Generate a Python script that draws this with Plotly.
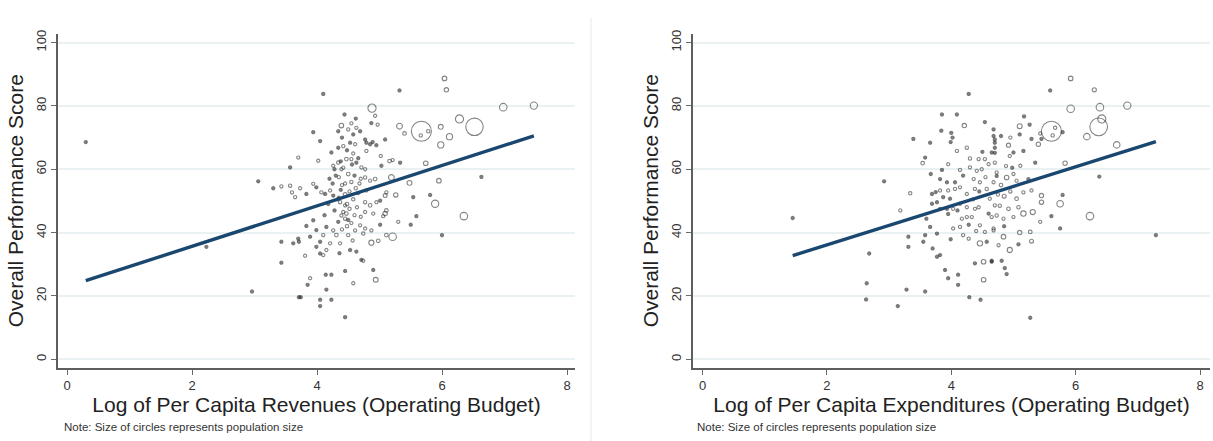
import plotly.graph_objects as go

# Per-municipality observations: log per-capita revenues / expenditures,
# overall performance score and population (thousands) for circle size.
rev_x = [0.30, 2.23, 2.96, 3.06, 3.30, 3.43, 3.57, 3.60, 3.65, 3.57, 3.70, 3.43, 3.43, 3.71, 3.71,
         3.94, 4.10, 4.44, 4.39, 4.05, 4.02, 3.83, 3.89, 3.81, 4.05, 4.15, 4.45, 4.58, 4.14, 4.23,
         3.85, 3.89, 4.15, 3.74, 4.05, 4.23, 4.05, 4.45,
         3.73, 3.83, 3.94, 3.99, 4.07, 4.13, 4.21, 4.26, 4.37, 4.45, 4.47, 4.39, 4.45, 4.34, 4.26,
         4.15, 4.10, 4.05, 3.99, 4.10, 4.21, 4.31, 4.37, 4.50, 4.53, 4.61, 4.69, 4.74, 4.71, 3.94,
         3.99, 3.70, 3.62,
         4.34, 4.50, 4.58, 4.63, 4.69, 4.34, 4.42, 4.53, 4.61, 4.79, 4.85, 4.23, 4.26, 4.34, 4.39,
         4.47, 4.55, 4.63, 4.71,
         4.50, 4.55, 4.40, 4.62, 4.45, 4.58, 4.35, 4.70, 4.48, 4.52, 4.60, 4.42, 4.30, 4.66, 4.38,
         4.56, 4.68, 4.25, 4.20, 4.33, 4.28, 4.48, 4.55, 4.64, 4.18, 4.12, 4.40, 4.57, 4.63, 4.36,
         4.88, 4.93, 4.97, 4.87, 5.32, 6.04, 6.07, 5.32, 5.40, 5.67, 5.66, 5.78, 5.98, 6.12, 5.98,
         6.28, 6.52, 6.98, 7.47, 5.74, 5.95, 5.48, 5.19, 6.63, 5.89, 6.35, 6.00, 5.21, 4.87, 4.98,
         4.94, 4.90, 4.74, 5.54, 5.59, 5.50, 5.30, 5.81, 5.26, 5.09, 5.09, 5.11, 5.06, 5.01, 5.11,
         5.16, 5.21, 5.33, 5.09, 5.02, 5.03, 4.93, 4.95, 4.77, 4.89, 4.79, 4.77, 4.77, 4.85, 4.85,
         4.77, 4.95, 4.77, 4.90, 4.77, 4.87, 5.01, 5.11, 4.79,
         4.45, 4.52, 4.60, 4.35, 4.42, 4.50, 4.38, 4.28, 4.58, 4.66, 4.48, 4.40, 4.55, 4.62, 4.70]
rev_score = [68.6, 35.5, 21.4, 56.2, 54.0, 54.6, 54.8, 52.7, 51.2, 60.6, 63.7, 37.1, 30.5, 37.1, 19.6,
             71.7, 83.8, 77.3, 73.8, 68.9, 62.7, 42.1, 38.7, 32.7, 33.4, 34.5, 27.9, 24.0, 26.7, 26.7,
             23.5, 25.6, 22.0, 19.6, 18.8, 18.8, 16.8, 13.3,
             54.0, 52.2, 55.4, 54.3, 52.7, 52.2, 53.3, 51.7, 49.6, 48.6, 46.0, 45.4, 44.4, 43.4, 40.7,
             41.8, 39.2, 37.1, 35.5, 32.9, 36.6, 39.2, 36.6, 39.2, 34.5, 40.7, 42.3, 39.7, 31.4, 43.9,
             40.8, 38.1, 36.6,
             72.0, 72.6, 71.0, 73.1, 72.0, 66.8, 67.3, 68.4, 67.9, 68.4, 67.9, 65.3, 61.1, 62.1, 60.0,
             63.2, 63.2, 62.1, 60.6,
             58.5, 56.0, 55.0, 54.0, 52.0, 50.5, 57.5, 57.0, 49.0, 47.5, 45.5, 60.5, 58.0, 52.5, 53.5,
             61.5, 55.5, 55.5, 57.0, 50.5, 47.0, 42.0, 43.0, 48.0, 49.0, 45.5, 41.0, 37.5, 34.0, 33.5,
             79.3, 76.9, 74.1, 74.6, 84.9, 88.7, 85.1, 73.6, 71.3, 72.0, 70.7, 72.0, 73.4, 70.3, 67.7,
             75.9, 73.4, 79.6, 80.1, 61.9, 56.4, 55.7, 57.4, 57.6, 49.1, 45.2, 39.2, 38.7, 36.8, 37.4,
             25.1, 28.2, 31.1, 51.2, 45.2, 42.5, 43.4, 51.9, 51.9, 51.7, 46.0, 47.0, 45.2, 42.5, 39.2,
             62.6, 62.9, 62.1, 69.4, 64.2, 61.1, 56.9, 67.6, 69.4, 68.6, 65.8, 60.0, 57.4, 56.4, 48.6,
             49.6, 49.6, 46.5, 46.0, 41.3, 40.7, 50.1, 52.7, 53.3,
             55.5, 53.0, 58.0, 51.0, 46.5, 44.0, 62.5, 60.0, 65.0, 63.5, 66.0, 70.0, 74.5, 76.0, 45.0]
rev_pop = [6, 6, 6, 6, 6, 8, 12, 8, 8, 6, 8, 6, 6, 6, 6,
           6, 6, 6, 22, 6, 8, 6, 6, 8, 6, 8, 6, 8, 6, 6,
           6, 8, 6, 6, 6, 6, 5, 6,
           8, 6, 8, 6, 12, 6, 8, 6, 12, 8, 14, 8, 12, 6, 8,
           6, 8, 6, 6, 8, 8, 14, 8, 12, 6, 8, 8, 12, 6, 6,
           6, 6, 6,
           6, 8, 6, 8, 6, 6, 8, 6, 8, 6, 6, 6, 8, 12, 8,
           14, 8, 6, 8,
           14, 12, 8, 12, 16, 12, 8, 8, 14, 12, 8, 8, 6, 8, 6,
           6, 8, 6, 6, 8, 6, 12, 8, 8, 6, 6, 8, 8, 6, 6,
           70, 8, 8, 6, 6, 22, 20, 35, 14, 420, 12, 12, 25, 40, 40,
           70, 320, 60, 55, 22, 22, 25, 35, 6, 55, 60, 4, 60, 28, 14,
           25, 6, 8, 6, 6, 6, 8, 6, 20, 16, 20, 14, 12, 6, 14,
           14, 8, 6, 6, 8, 6, 14, 6, 6, 6, 8, 8, 12, 8, 14,
           12, 8, 8, 8, 8, 8, 6, 8, 8,
           8, 10, 6, 6, 8, 6, 6, 6, 8, 6, 6, 6, 8, 6, 8]

exp_x = [1.45, 2.63, 2.64, 2.68, 2.92, 3.14, 3.18, 3.34, 3.28, 3.58, 3.39, 3.66, 3.54, 3.58, 3.85,
         4.09, 4.28, 4.21, 3.84, 4.00, 4.02, 3.99, 3.67, 3.85, 3.95, 4.14, 4.30, 4.09, 4.25, 4.44,
         4.54, 4.60, 4.49, 4.65, 4.70, 4.68, 4.54, 3.69, 3.75, 3.82, 3.87, 3.77, 3.95, 3.98, 4.06,
         4.14, 4.25, 3.93, 3.95, 3.82, 3.69, 3.60, 3.66, 3.77, 3.58, 3.55, 3.31, 3.31, 3.70, 3.77,
         3.82, 3.99, 4.03, 4.14, 4.19, 4.28, 4.17, 4.25, 4.33, 4.38, 4.44, 4.46, 4.54, 4.57, 4.65,
         4.68, 4.46, 4.38, 4.52, 4.65, 4.52, 3.90, 3.95, 4.11, 4.11, 4.29, 4.47,
         4.36, 4.46, 4.57, 4.38, 4.68, 4.73, 4.62, 4.70, 4.30, 4.41, 4.19, 4.06, 3.93, 3.82, 4.03,
         4.14, 4.25,
         5.92, 5.59, 6.30, 5.92, 6.39, 6.83, 6.42, 6.37, 6.18, 6.66, 5.61, 5.63, 5.67, 5.79, 5.43,
         5.40, 5.45, 5.10, 5.26, 5.17, 5.10, 5.29, 4.68, 4.92, 5.83, 5.35, 6.38, 6.23, 7.29, 5.75,
         5.75, 5.61, 5.45, 5.45, 5.79, 5.31, 5.43, 5.16, 5.27, 5.29, 5.10, 5.27, 4.86, 4.89, 4.81,
         4.65, 4.94, 4.84, 4.76, 4.68, 5.08, 5.24, 5.05, 4.89, 4.70, 4.73, 5.05, 5.00, 4.84, 4.73,
         5.16, 5.29, 4.94, 5.11, 4.70, 4.70, 4.70, 5.00, 5.16,
         4.80, 4.95, 4.85, 5.00, 4.78, 4.92, 5.08, 4.88, 4.98,
         4.35, 4.45, 4.55, 4.60, 4.28, 4.40, 4.75, 4.85, 4.10, 4.50, 4.80, 4.95]
exp_score = [44.6, 18.9, 24.0, 33.4, 56.2, 16.8, 47.0, 52.4, 22.0, 21.4, 69.6, 68.4, 61.9, 63.7, 77.3,
             77.3, 83.8, 73.8, 72.2, 71.5, 70.0, 68.6, 58.5, 59.8, 61.6, 59.8, 63.4, 65.8, 66.8, 63.2,
             63.2, 61.6, 60.0, 65.3, 68.4, 70.5, 74.9, 52.2, 52.8, 53.3, 51.2, 49.6, 53.3, 50.7, 53.8,
             54.3, 52.2, 47.5, 45.9, 47.5, 49.1, 44.4, 41.8, 39.7, 39.2, 37.1, 38.7, 35.5, 35.0, 32.4,
             32.9, 37.9, 41.3, 41.8, 39.2, 38.1, 44.4, 44.9, 44.9, 47.5, 48.0, 42.3, 40.2, 37.1, 44.9,
             41.3, 36.6, 30.3, 30.8, 30.8, 25.1, 28.2, 25.6, 26.7, 23.5, 19.6, 18.8,
             56.9, 55.9, 53.8, 53.8, 55.9, 57.9, 50.7, 48.6, 60.6, 59.5, 58.0, 55.9, 55.9, 56.9, 47.5,
             49.1, 48.0,
             88.7, 84.9, 85.1, 79.1, 79.6, 80.1, 75.9, 73.4, 70.3, 67.7, 72.0, 70.7, 73.1, 71.7, 71.3,
             67.9, 69.6, 73.6, 74.1, 76.7, 71.0, 69.6, 72.6, 67.6, 61.9, 62.1, 57.7, 45.2, 39.2, 49.1,
             41.3, 45.2, 51.7, 49.6, 51.9, 46.5, 43.4, 46.0, 40.2, 37.3, 40.0, 13.1, 28.8, 26.9, 31.1,
             31.1, 34.5, 38.7, 36.0, 40.7, 36.3, 56.9, 56.4, 57.4, 62.1, 59.0, 50.7, 44.9, 44.4, 45.4,
             52.7, 53.3, 64.2, 61.1, 69.4, 66.8, 65.2, 65.3, 65.8,
             55.0, 53.0, 51.5, 58.5, 48.5, 47.5, 48.0, 61.0, 60.5,
             50.5, 53.0, 57.5, 46.0, 42.5, 40.5, 52.0, 42.0, 47.0, 65.5, 70.5, 70.0]
exp_pop = [6, 4, 6, 6, 6, 4, 8, 12, 6, 6, 6, 6, 14, 6, 6,
           6, 6, 20, 6, 6, 6, 6, 6, 6, 8, 8, 12, 8, 12, 8,
           8, 8, 8, 6, 6, 6, 6, 6, 6, 8, 6, 6, 8, 6, 8,
           8, 8, 6, 6, 6, 6, 6, 6, 6, 6, 6, 6, 6, 6, 6,
           6, 6, 8, 8, 8, 8, 8, 8, 8, 8, 8, 8, 8, 6, 8,
           8, 30, 6, 22, 6, 22, 6, 6, 6, 6, 6, 6,
           8, 8, 12, 8, 8, 6, 8, 8, 8, 8, 6, 6, 6, 6, 8,
           8, 8,
           22, 6, 18, 60, 60, 55, 70, 330, 45, 45, 420, 12, 12, 6, 8,
           20, 6, 25, 6, 6, 6, 6, 6, 18, 20, 6, 6, 60, 4, 45,
           6, 6, 20, 20, 5, 28, 8, 30, 14, 16, 20, 5, 6, 6, 6,
           6, 28, 22, 8, 8, 6, 6, 8, 22, 8, 8, 14, 8, 8, 12,
           8, 8, 8, 8, 6, 6, 6, 6, 6,
           14, 12, 16, 8, 12, 14, 12, 8, 6,
           8, 6, 8, 6, 6, 8, 8, 6, 6, 6, 6, 8]

# Linear fits (intercept, slope), drawn over each sample's x-span
rev_fit = (22.9, 6.38)
exp_fit = (23.8, 6.16)

x_ticks = [0, 2, 4, 6, 8]
y_ticks = [0, 20, 40, 60, 80, 100]

FONT = "Liberation Sans, Arial, Helvetica, sans-serif"
W, H = 1213, 441
MAX_POP = max(max(rev_pop), max(exp_pop))
SIZEREF = 2.0 * MAX_POP / (20.0 ** 2)
MARK = "rgba(35,35,35,0.8)"

fig = go.Figure()


def add_panel(xs, ys, pops, fit, xa, ya):
    # the tiniest places render as solid specks, the rest as hollow rings
    symbols = ["circle" if p <= 6 else "circle-open" for p in pops]
    fig.add_trace(go.Scatter(
        x=xs, y=ys, mode="markers", xaxis=xa, yaxis=ya, showlegend=False,
        marker=dict(symbol=symbols, size=pops, sizemode="area", sizeref=SIZEREF,
                    sizemin=1.6, color=MARK, line=dict(width=1.1, color=MARK)),
        hoverinfo="skip"))
    lo, hi = min(xs), max(xs)
    fig.add_trace(go.Scatter(
        x=[lo, hi], y=[fit[0] + fit[1] * lo, fit[0] + fit[1] * hi], mode="lines",
        xaxis=xa, yaxis=ya, showlegend=False,
        line=dict(color="#1a476f", width=3.4), hoverinfo="skip"))


add_panel(rev_x, rev_score, rev_pop, rev_fit, "x", "y")
add_panel(exp_x, exp_score, exp_pop, exp_fit, "x2", "y2")

y_dom = [(H - 367) / H, (H - 30) / H]

common_x = dict(tickvals=x_ticks, ticks="outside", ticklen=5, tickwidth=1.4, tickcolor="#6a6a6a",
                showline=True, linecolor="#5e5e5e", linewidth=2, showgrid=False, zeroline=False,
                tickfont=dict(family=FONT, size=13, color="#333333"))
common_y = dict(tickvals=y_ticks, ticks="outside", ticklen=5, tickwidth=1.4, tickcolor="#6a6a6a",
                showline=True, linecolor="#5e5e5e", linewidth=2, showgrid=True,
                gridcolor="#e9f1f3", gridwidth=1.5, zeroline=False, tickangle=-90,
                range=[-2.66, 102.8], domain=y_dom,
                tickfont=dict(family=FONT, size=13, color="#333333"),
                title=dict(text="Overall Performance Score", standoff=4,
                           font=dict(family=FONT, size=21, color="#222222")))

fig.update_layout(
    width=W, height=H, margin=dict(l=0, r=0, t=0, b=0),
    paper_bgcolor="white", plot_bgcolor="white",
    xaxis=dict(common_x, domain=[58 / W, 575 / W], range=[-0.144, 8.128], anchor="y",
               title=dict(text="Log of Per Capita Revenues (Operating Budget)", standoff=2,
                          font=dict(family=FONT, size=21, color="#222222"))),
    yaxis=dict(common_y, anchor="x"),
    xaxis2=dict(common_x, domain=[693 / W, 1210 / W], range=[-0.153, 8.16], anchor="y2",
                title=dict(text="Log of Per Capita Expenditures (Operating Budget)", standoff=2,
                           font=dict(family=FONT, size=21, color="#222222"))),
    yaxis2=dict(common_y, anchor="x2"),
)

# faint divider between the two graphs
fig.add_shape(type="line", xref="paper", yref="paper", x0=591 / W, x1=591 / W,
              y0=0, y1=(H - 14) / H, line=dict(color="#e4edf0", width=1.2))

note = "Note: Size of circles represents population size"
for x_px in (62, 695):
    fig.add_annotation(text=note, xref="paper", yref="paper", x=x_px / W, y=(H - 427) / H,
                       xanchor="left", yanchor="middle", showarrow=False,
                       font=dict(family=FONT, size=11.5, color="#333333"))

fig.write_html("out.html")
